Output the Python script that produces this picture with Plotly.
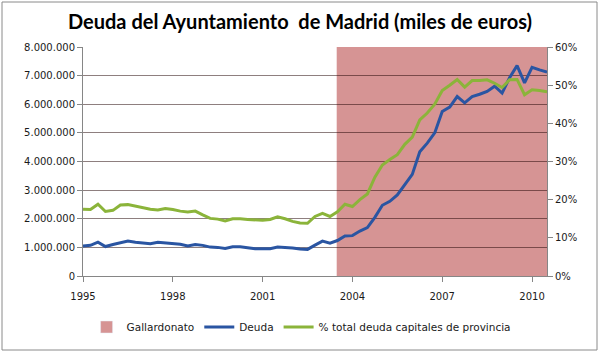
import plotly.graph_objects as go

# Quarterly categories 1995-T1 ... 2010-T3
quarters = [f"{y}-T{q}" for y in range(1995, 2011) for q in range(1, 5)][:63]

# Deuda del Ayuntamiento (miles de euros)
deuda = [1050000, 1070000, 1180000, 1030000, 1100000, 1160000, 1220000, 1180000, 1150000, 1130000,
         1180000, 1150000, 1140000, 1110000, 1050000, 1100000, 1070000, 1010000, 1000000, 960000,
         1020000, 1020000, 990000, 950000, 950000, 950000, 1010000, 1000000, 980000, 940000,
         930000, 1080000, 1220000, 1150000, 1240000, 1400000, 1410000, 1570000, 1690000, 2050000,
         2470000, 2610000, 2830000, 3190000, 3550000, 4340000, 4640000, 5000000, 5750000, 5900000,
         6270000, 6050000, 6270000, 6350000, 6450000, 6630000, 6390000, 6930000, 7350000, 6750000,
         7290000, 7200000, 7120000]

# % del total de deuda de capitales de provincia
pct_capitales = [17.5, 17.4, 18.8, 16.9, 17.2, 18.6, 18.7, 18.3, 17.8, 17.5,
                 17.3, 17.7, 17.4, 17.0, 16.8, 17.0, 16.0, 15.1, 14.9, 14.4,
                 15.0, 15.0, 14.8, 14.7, 14.6, 14.8, 15.5, 15.0, 14.3, 13.9,
                 13.8, 15.6, 16.4, 15.6, 16.8, 18.8, 18.2, 20.0, 21.5, 25.9,
                 29.1, 30.5, 31.8, 34.5, 36.4, 40.9, 42.7, 45.0, 48.6, 50.0,
                 51.5, 49.5, 51.2, 51.2, 51.4, 50.5, 49.4, 51.4, 51.5, 47.5,
                 48.8, 48.6, 48.3]

# Gallardonato (periodo de mandato, barra a altura completa del eje)
gallardonato = [None, None, None, None, None, None, None, None, None, None,
                None, None, None, None, None, None, None, None, None, None,
                None, None, None, None, None, None, None, None, None, None,
                None, None, None, None, 8000000, 8000000, 8000000, 8000000, 8000000, 8000000,
                8000000, 8000000, 8000000, 8000000, 8000000, 8000000, 8000000, 8000000, 8000000, 8000000,
                8000000, 8000000, 8000000, 8000000, 8000000, 8000000, 8000000, 8000000, 8000000, 8000000,
                8000000, 8000000, 8000000]

tick_quarters = ["1995-T1", "1998-T1", "2001-T1", "2004-T1", "2007-T1", "2010-T1"]
tick_labels = ["1995", "1998", "2001", "2004", "2007", "2010"]

FONT = "DejaVu Sans"
TXT = "#1a1a1a"
AX = "#868686"
PINK = "#D69494"

fig = go.Figure()
# Gallardonato period: contiguous columns (gap 0) drawn under the gridlines
g_idx = [i for i, v in enumerate(gallardonato) if v is not None]
shapes = [dict(type="rect", xref="x", yref="y", layer="below",
               x0=g_idx[0] - 0.1, x1=g_idx[-1] + 0.9,
               y0=0, y1=max(gallardonato[i] for i in g_idx),
               fillcolor=PINK, line=dict(width=0))]
# legend entry for the Gallardonato series
fig.add_trace(go.Bar(x=[None], y=[None], name="Gallardonato", marker=dict(color=PINK),
                     legendrank=1, hoverinfo="skip"))
fig.add_trace(go.Scatter(x=quarters, y=deuda, name="Deuda", yaxis="y", mode="lines",
                         line=dict(color="#2A55A2", width=3), legendrank=2))
fig.add_trace(go.Scatter(x=quarters, y=pct_capitales, name="% total deuda capitales de provincia",
                         yaxis="y2", mode="lines", line=dict(color="#8BB43A", width=3),
                         legendrank=3))

shapes.append(dict(type="rect", xref="paper", yref="paper",
                   x0=(2 - 83) / 464, x1=(597 - 83) / 464,
                   y0=-(350 - 276) / 229, y1=(276 - 2) / 229,
                   line=dict(color="#8a8a8a", width=1), fillcolor="rgba(0,0,0,0)", layer="above"))

n = len(quarters)
fig.update_layout(
    width=600, height=353,
    margin=dict(l=83, r=53, t=47, b=77),
    paper_bgcolor="white", plot_bgcolor="white",
    separators=",.",
    bargap=0,
    showlegend=True,
    title=dict(text="<b>Deuda del Ayuntamiento  de Madrid (miles de euros)</b>",
               x=0.5, xanchor="center", y=1 - 22 / 353, yanchor="middle",
               font=dict(family="Lato", size=20, color="#000000")),
    font=dict(family=FONT, size=10, color=TXT),
    xaxis=dict(type="category", categoryarray=quarters, range=[0, n - 1],
               tickvals=tick_quarters, ticktext=tick_labels,
               showgrid=False, showline=True, linecolor=AX, linewidth=1,
               ticks="outside", ticklen=5, tickcolor=AX, ticklabelstandoff=6,
               tickfont=dict(family=FONT, size=10, color=TXT)),
    yaxis=dict(side="left", range=[0, 8000000], dtick=1000000, tickformat=",d",
               showgrid=True, gridcolor="rgba(30,0,0,0.5)", gridwidth=1,
               zeroline=False, showline=True, linecolor=AX,
               ticks="outside", ticklen=5, tickcolor=AX,
               tickfont=dict(family=FONT, size=10, color=TXT)),
    yaxis2=dict(overlaying="y", side="right", range=[0, 60], dtick=10, ticksuffix="%",
                showgrid=False, zeroline=False, showline=True, linecolor=AX,
                ticks="outside", ticklen=5, tickcolor=AX,
                tickfont=dict(family=FONT, size=10, color=TXT)),
    legend=dict(orientation="h", x=0.47, xanchor="center", y=-51 / 229, yanchor="middle",
                font=dict(family=FONT, size=10.5, color=TXT), bgcolor="rgba(0,0,0,0)",
                traceorder="normal", itemwidth=30),
    shapes=shapes,
)

fig.write_html("out.html")
